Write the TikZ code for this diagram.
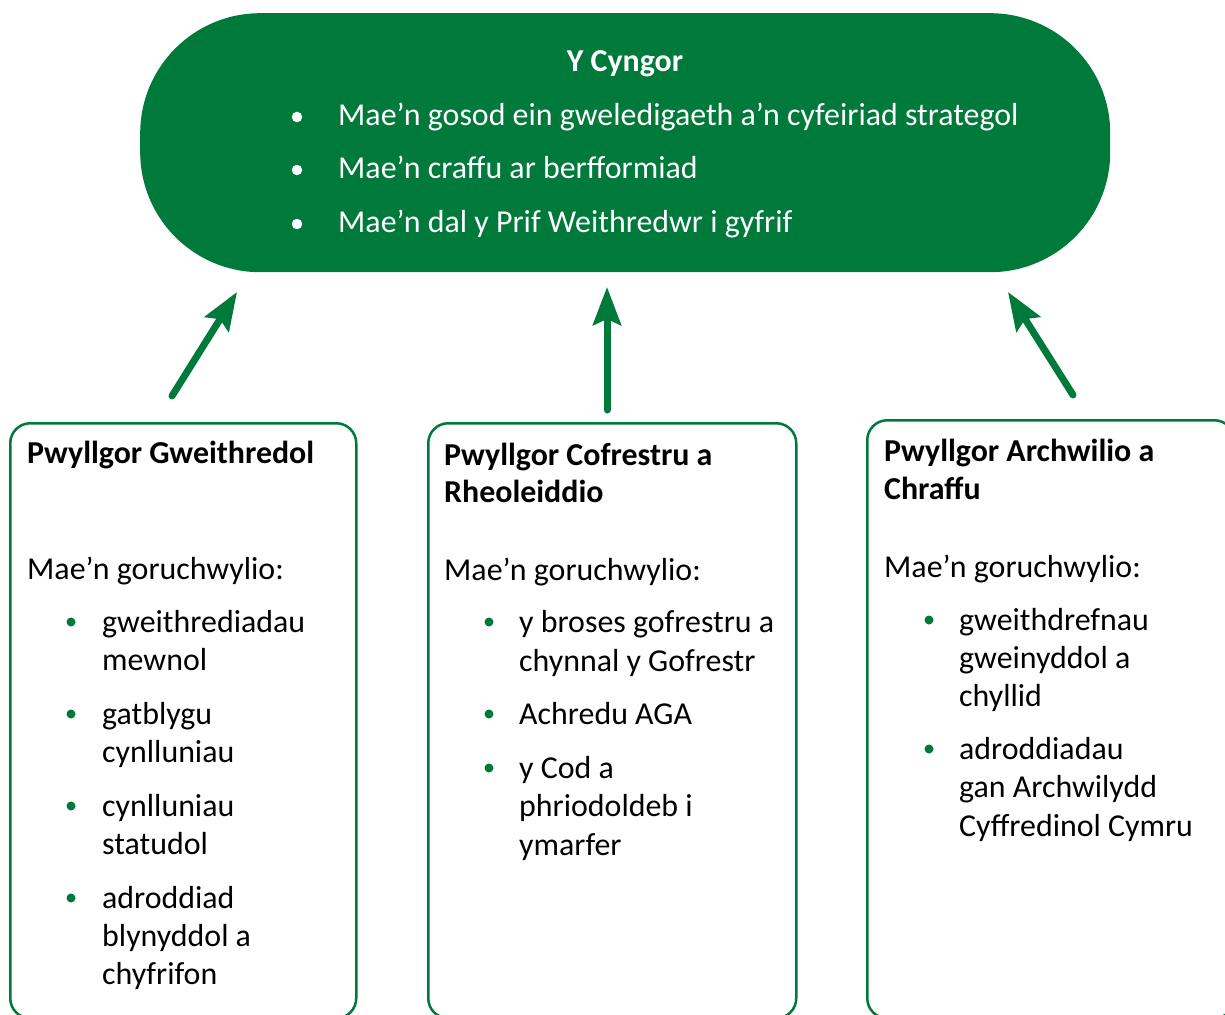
\documentclass[tikz,border=0pt]{standalone}
\usepackage{fontspec}
\setmainfont{Carlito}
\usetikzlibrary{arrows.meta}
\definecolor{cgreen}{RGB}{0,122,58}
\newcommand\bodyfs{\fontsize{31.9}{38.4}\selectfont}
\begin{document}
\begin{tikzpicture}[x=1pt,y=-1pt,
  txt/.style={anchor=base west, inner sep=0pt, font=\bodyfs, text=black},
  btxt/.style={txt, font=\bodyfs\bfseries},
  wtxt/.style={txt, text=white},
  gdot/.style={circle, fill=cgreen, inner sep=0pt, minimum size=9pt},
  wdot/.style={circle, fill=white, inner sep=0pt, minimum size=10.5pt},
  panel/.style={draw=cgreen, line width=2.5pt, rounded corners=20pt, anchor=north west, inner sep=0pt},
  uparrow/.style={draw=cgreen, line width=7pt, line cap=round, -{Stealth[length=38pt,width=28pt,inset=6pt]}},
]
\useasboundingbox (0,0) rectangle (1225,1014);
\clip (0,0) rectangle (1225,1014);

% top pill
\node[fill=cgreen, rounded corners=120pt, minimum width=970pt, minimum height=259pt, anchor=north west, inner sep=0pt] (cyngor) at (140,13) {};
\node[anchor=base, inner sep=0pt, font=\bodyfs\bfseries, text=white] (ctitle) at (625,72) {Y Cyngor};
\node[wdot] (cd1) at (297,117) {};
\node[wdot] (cd2) at (297,170) {};
\node[wdot] (cd3) at (297,224) {};
\node[wtxt] (ct1) at (338,125) {Mae’n gosod ein gweledigaeth a’n cyfeiriad strategol};
\node[wtxt] (ct2) at (338,178) {Mae’n craffu ar berfformiad};
\node[wtxt] (ct3) at (338,232) {Mae’n dal y Prif Weithredwr i gyfrif};

% panels
\node[panel, minimum width=346pt, minimum height=595pt] (p1) at (9,422) {};
\node[panel, minimum width=368pt, minimum height=595pt] (p2) at (427,422) {};
\node[panel, minimum width=367pt, minimum height=598pt] (p3) at (866,419) {};

% arrows
\coordinate (a1s) at (172,396);
\coordinate (a1e) at (237,292);
\coordinate (a2s) at (607,410);
\coordinate (a2e) at (607,287);
\coordinate (a3s) at (1073,395);
\coordinate (a3e) at (1008,292);
\draw[uparrow] (a1s) -- (a1e);
\draw[uparrow] (a2s) -- (a2e);
\draw[uparrow] (a3s) -- (a3e);

% panel 1
\node[btxt] (p1t) at (27,463) {Pwyllgor Gweithredol};
\node[txt] (p1m) at (27,579) {Mae’n goruchwylio:};
\node[gdot] (p1d1) at (71,622) {};
\node[gdot] (p1d2) at (71,714) {};
\node[gdot] (p1d3) at (71,806) {};
\node[gdot] (p1d4) at (71,898) {};
\node[txt] (p1a) at (102,632) {gweithrediadau};
\node[txt] (p1b) at (102,670) {mewnol};
\node[txt] (p1c) at (102,724) {gatblygu};
\node[txt] (p1e) at (102,762) {cynlluniau};
\node[txt] (p1f) at (102,816) {cynlluniau};
\node[txt] (p1g) at (102,854) {statudol};
\node[txt] (p1h) at (102,908) {adroddiad};
\node[txt] (p1i) at (102,946) {blynyddol a};
\node[txt] (p1j) at (102,984) {chyfrifon};

% panel 2
\node[btxt] (p2t) at (444,465) {Pwyllgor Cofrestru a};
\node[btxt] (p2u) at (444,502) {Rheoleiddio};
\node[txt] (p2m) at (444,580) {Mae’n goruchwylio:};
\node[gdot] (p2d1) at (489,622) {};
\node[gdot] (p2d2) at (489,714) {};
\node[gdot] (p2d3) at (489,768) {};
\node[txt] (p2a) at (519,632) {y broses gofrestru a};
\node[txt] (p2b) at (519,671) {chynnal y Gofrestr};
\node[txt] (p2c) at (519,724) {Achredu AGA};
\node[txt] (p2e) at (519,778) {y Cod a};
\node[txt] (p2f) at (519,816) {phriodoldeb i};
\node[txt] (p2g) at (519,855) {ymarfer};

% panel 3
\node[btxt] (p3t) at (884,461) {Pwyllgor Archwilio a};
\node[btxt] (p3u) at (884,499) {Chraffu};
\node[txt] (p3m) at (884,577) {Mae’n goruchwylio:};
\node[gdot] (p3d1) at (929,620) {};
\node[gdot] (p3d2) at (929,749) {};
\node[txt] (p3a) at (959,630) {gweithdrefnau};
\node[txt] (p3b) at (959,668) {gweinyddol a};
\node[txt] (p3c) at (959,706) {chyllid};
\node[txt] (p3e) at (959,759) {adroddiadau};
\node[txt] (p3f) at (959,797) {gan Archwilydd};
\node[txt] (p3g) at (959,836) {Cyffredinol Cymru};
\end{tikzpicture}
\end{document}
